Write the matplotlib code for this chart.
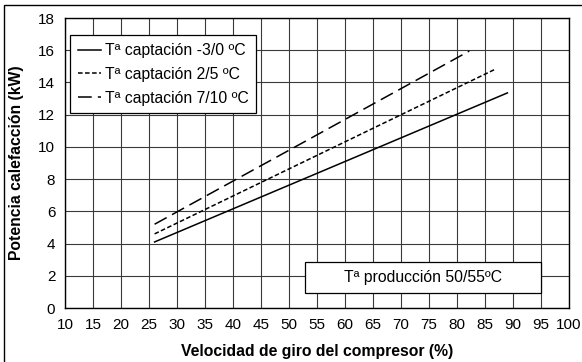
import matplotlib
matplotlib.use("Agg")
import matplotlib.pyplot as plt
from matplotlib.patches import Rectangle

plt.rcParams['font.family'] = ['Liberation Sans', 'DejaVu Sans']

series_labels = ["Tª captación -3/0 ºC", "Tª captación 2/5 ºC", "Tª captación 7/10 ºC"]
x_s1 = [26, 89]
y_s1 = [4.1, 13.35]
x_s2 = [26, 86.7]
y_s2 = [4.6, 14.8]
x_s3 = [26, 82.2]
y_s3 = [5.2, 15.95]
x_ticks = list(range(10, 101, 5))
y_ticks = list(range(0, 19, 2))
note_text = "Tª producción 50/55ºC"

fig = plt.figure(figsize=(5.82, 3.62), dpi=100)
W, H = 582, 362
ax = fig.add_axes([65 / W, 1 - 308 / H, (569 - 65) / W, (308 - 18) / H])

fig.patches.append(Rectangle((4 / W, -0.1), 1.2, (1 - 5 / H) + 0.1, transform=fig.transFigure,
                             fill=False, edgecolor='black', linewidth=1.0))

ax.plot(x_s1, y_s1, color='black', lw=1.1, linestyle='-', label=series_labels[0])
ax.plot(x_s2, y_s2, color='black', lw=1.1, linestyle=(0, (3, 1.6)), label=series_labels[1])
ax.plot(x_s3, y_s3, color='black', lw=1.1, linestyle=(0, (9, 4)), label=series_labels[2])

ax.set_xlim(10, 100)
ax.set_ylim(0, 18)
ax.set_xticks(x_ticks)
ax.set_yticks(y_ticks)
ax.grid(True, color='#3a3a3a', lw=0.8)
ax.set_axisbelow(True)
ax.tick_params(length=0, labelsize=11, pad=7)
for s in ax.spines.values():
    s.set_linewidth(1.0)
    s.set_color('black')

ax.set_xlabel("Velocidad de giro del compresor (%)", fontsize=11.3, fontweight='bold', labelpad=9)
ax.set_ylabel("Potencia calefacción (kW)", fontsize=11.3, fontweight='bold', labelpad=10)

leg = ax.legend(loc='upper left', bbox_to_anchor=(0.01, 0.94), fontsize=11.3, frameon=True, fancybox=False,
                edgecolor='black', framealpha=1, handlelength=1.5, handletextpad=0.2, borderpad=0.5,
                labelspacing=0.55, borderaxespad=0)
leg.get_frame().set_linewidth(0.9)

ax.add_patch(Rectangle((52.9, 0.93), 95.0 - 52.9, 2.86 - 0.93, facecolor='white', edgecolor='black',
                       linewidth=0.9, zorder=3))
ax.text((52.9 + 95.0) / 2, (0.93 + 2.86) / 2, note_text, fontsize=11.3, ha='center', va='center', zorder=4)

fig.savefig("out.png", dpi=100)
